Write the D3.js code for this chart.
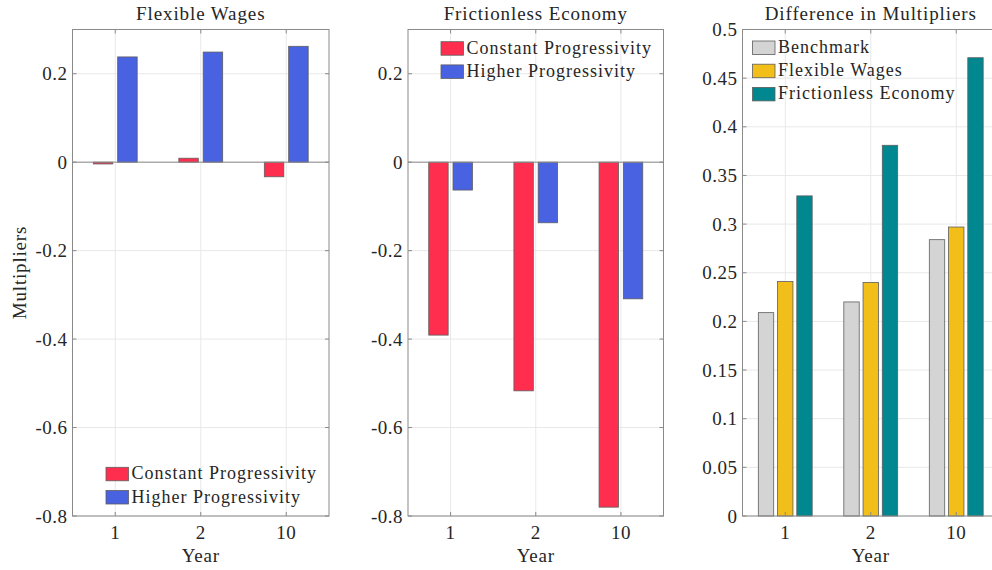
<!DOCTYPE html>
<html>
<head>
<meta charset="utf-8">
<script src="https://cdn.jsdelivr.net/npm/d3@7"></script>
<style>
  html, body { margin: 0; padding: 0; background: #fff; }
  svg { display: block; }
  text { font-family: "Liberation Serif", "Times New Roman", serif; fill: #262626; }
</style>
</head>
<body>
<svg id="chart" width="992" height="570"></svg>
<script>
// ---- Data ----
const years = ["1", "2", "10"];
const flexConstant = [-0.004, 0.009, -0.033];
const flexHigher = [0.238, 0.249, 0.262];
const fricConstant = [-0.391, -0.517, -0.780];
const fricHigher = [-0.063, -0.137, -0.309];
const diffBenchmark = [0.209, 0.220, 0.284];
const diffFlexible = [0.241, 0.240, 0.297];
const diffFrictionless = [0.329, 0.381, 0.471];

const yTicksLevels = [0.2, 0, -0.2, -0.4, -0.6, -0.8];
const yTickLabelsLevels = ["0.2", "0", "-0.2", "-0.4", "-0.6", "-0.8"];
const yTicksDiff = [0, 0.05, 0.1, 0.15, 0.2, 0.25, 0.3, 0.35, 0.4, 0.45, 0.5];
const yTickLabelsDiff = ["0", "0.05", "0.1", "0.15", "0.2", "0.25", "0.3", "0.35", "0.4", "0.45", "0.5"];

const titles = ["Flexible Wages", "Frictionless Economy", "Difference in Multipliers"];
const seriesNamesLevels = ["Constant Progressivity", "Higher Progressivity"];
const seriesNamesDiff = ["Benchmark", "Flexible Wages", "Frictionless Economy"];

const colorsLevels = ["#ff2d4e", "#4862e2"];
const colorsDiff = ["#d4d4d4", "#f1be1a", "#00878f"];

// ---- Drawing ----
const svg = d3.select("#chart");
const plotTop = 29.5, plotBottom = 516;
const axisColor = "#8a8a8a", gridColor = "#e8e8e8";

function panel(cfg) {
  const g = svg.append("g");
  const x = d3.scalePoint().domain(years).range([cfg.x0, cfg.x1]).padding(0.5);
  const step = x.step();
  const y = d3.scaleLinear().domain(cfg.yDomain).range([plotBottom, plotTop]);

  // grid
  g.selectAll(".vg").data(years).join("line")
    .attr("x1", d => x(d)).attr("x2", d => x(d))
    .attr("y1", plotTop).attr("y2", plotBottom)
    .attr("stroke", gridColor).attr("stroke-width", 1);
  g.selectAll(".hg").data(cfg.yTicks).join("line")
    .attr("x1", cfg.x0).attr("x2", cfg.x1)
    .attr("y1", d => y(d)).attr("y2", d => y(d))
    .attr("stroke", gridColor).attr("stroke-width", 1);

  // bars
  const n = cfg.series.length;
  cfg.series.forEach((vals, si) => {
    const off = (si - (n - 1) / 2) * cfg.offset * step;
    const w = cfg.barWidth * step;
    g.selectAll(null).data(vals).join("rect")
      .attr("x", (d, i) => x(years[i]) + off - w / 2)
      .attr("width", w)
      .attr("y", d => y(Math.max(0, d)))
      .attr("height", d => Math.abs(y(d) - y(0)))
      .attr("fill", cfg.colors[si])
      .attr("stroke", "#5e5e5e").attr("stroke-width", 0.8);
  });

  // zero baseline
  if (cfg.baseline) {
    g.append("line").attr("x1", cfg.x0).attr("x2", cfg.x1)
      .attr("y1", y(0)).attr("y2", y(0))
      .attr("stroke", axisColor).attr("stroke-width", 1);
  }

  // box
  g.append("rect").attr("x", cfg.x0).attr("y", plotTop)
    .attr("width", cfg.x1 - cfg.x0).attr("height", plotBottom - plotTop)
    .attr("fill", "none").attr("stroke", axisColor).attr("stroke-width", 1);

  // ticks (inside)
  const tl = 4;
  years.forEach(d => {
    g.append("line").attr("x1", x(d)).attr("x2", x(d)).attr("y1", plotBottom).attr("y2", plotBottom - tl).attr("stroke", axisColor);
    g.append("line").attr("x1", x(d)).attr("x2", x(d)).attr("y1", plotTop).attr("y2", plotTop + tl).attr("stroke", axisColor);
  });
  cfg.yTicks.forEach(d => {
    g.append("line").attr("x1", cfg.x0).attr("x2", cfg.x0 + tl).attr("y1", y(d)).attr("y2", y(d)).attr("stroke", axisColor);
    g.append("line").attr("x1", cfg.x1).attr("x2", cfg.x1 - tl).attr("y1", y(d)).attr("y2", y(d)).attr("stroke", axisColor);
  });

  // tick labels
  g.selectAll(".xl").data(years).join("text")
    .attr("x", d => x(d)).attr("y", 539)
    .attr("text-anchor", "middle").attr("font-size", 19).attr("letter-spacing", 0.5)
    .text(d => d);
  g.selectAll(".yl").data(cfg.yTicks).join("text")
    .attr("x", cfg.x0 - 5).attr("y", d => y(d) + 6.5)
    .attr("text-anchor", "end").attr("font-size", 19).attr("letter-spacing", 0.5)
    .text((d, i) => cfg.yLabels[i]);

  // title
  g.append("text").attr("x", (cfg.x0 + cfg.x1) / 2).attr("y", 20)
    .attr("text-anchor", "middle").attr("font-size", 19).attr("letter-spacing", 0.9)
    .text(cfg.title);
  // x label
  g.append("text").attr("x", (cfg.x0 + cfg.x1) / 2).attr("y", 562)
    .attr("text-anchor", "middle").attr("font-size", 19).attr("letter-spacing", 0.8)
    .text("Year");

  // legend
  cfg.legendNames.forEach((name, i) => {
    const ly = cfg.legendY + i * 23.2;
    g.append("rect").attr("x", cfg.legendX).attr("y", ly)
      .attr("width", 22.5).attr("height", 13.5)
      .attr("fill", cfg.colors[i]).attr("stroke", "#5e5e5e").attr("stroke-width", 0.8);
    g.append("text").attr("x", cfg.legendX + 25.5).attr("y", ly + 12)
      .attr("font-size", 18).attr("letter-spacing", 1)
      .text(name);
  });
  return g;
}

panel({ x0: 72.5, x1: 329, yDomain: [-0.8, 0.3], yTicks: yTicksLevels, yLabels: yTickLabelsLevels,
  series: [flexConstant, flexHigher], colors: colorsLevels, offset: 0.285, barWidth: 0.228,
  baseline: true, title: titles[0], legendNames: seriesNamesLevels, legendX: 106, legendY: 467.3 });

panel({ x0: 408, x1: 663.5, yDomain: [-0.8, 0.3], yTicks: yTicksLevels, yLabels: yTickLabelsLevels,
  series: [fricConstant, fricHigher], colors: colorsLevels, offset: 0.285, barWidth: 0.228,
  baseline: true, title: titles[1], legendNames: seriesNamesLevels, legendX: 441, legendY: 41.7 });

panel({ x0: 742.5, x1: 999, yDomain: [0, 0.5], yTicks: yTicksDiff, yLabels: yTickLabelsDiff,
  series: [diffBenchmark, diffFlexible, diffFrictionless], colors: colorsDiff, offset: 0.225, barWidth: 0.18,
  baseline: false, title: titles[2], legendNames: seriesNamesDiff, legendX: 752.5, legendY: 41 });

// y axis label
svg.append("text").attr("transform", "translate(26,272.5) rotate(-90)")
  .attr("text-anchor", "middle").attr("font-size", 19).attr("letter-spacing", 0.8)
  .text("Multipliers");
</script>
</body>
</html>
